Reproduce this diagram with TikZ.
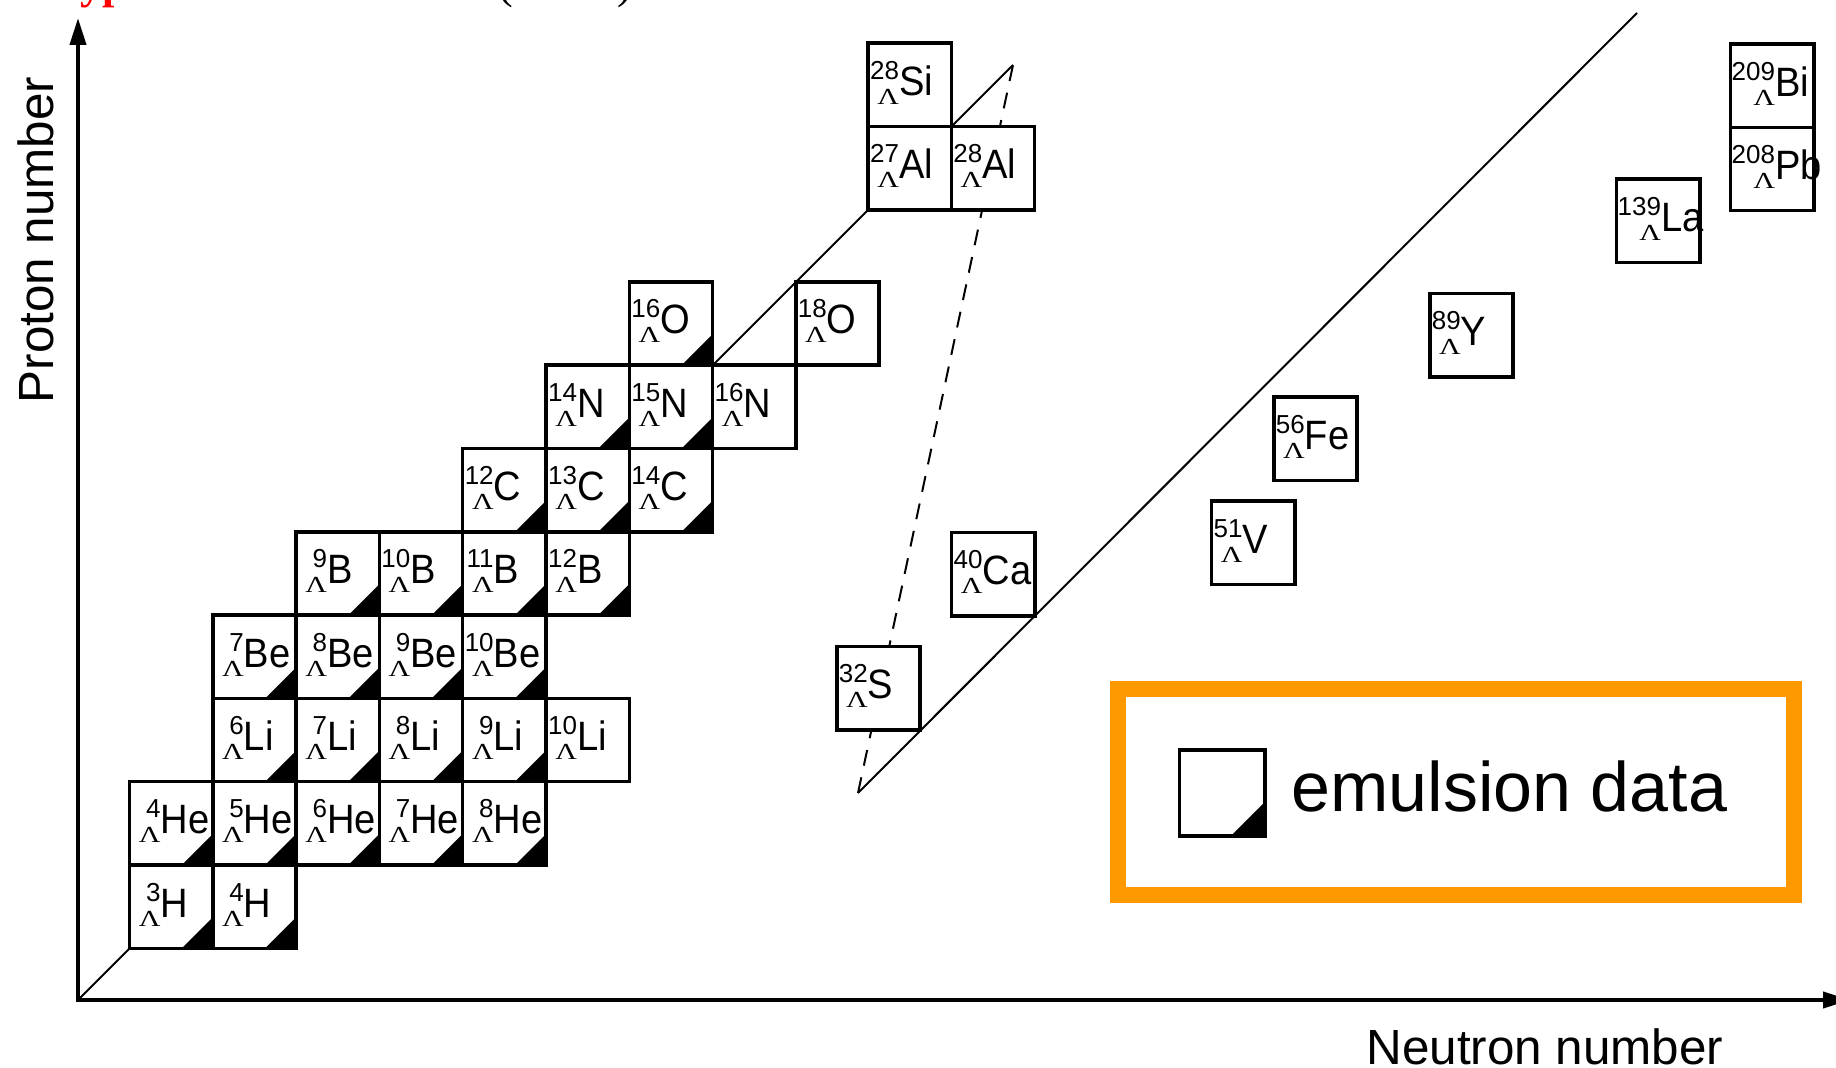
\documentclass[tikz,border=0pt]{standalone}
\usepackage{fontspec}
\setmainfont{Liberation Sans}
\newfontfamily\elemf[FakeStretch=0.93]{Liberation Sans}
\newfontfamily\lamf[FakeStretch=1.3]{Liberation Serif}
\newfontfamily\serf{Liberation Serif}
\usetikzlibrary{arrows.meta}
\definecolor{legendorange}{RGB}{255,153,0}

% hypernucleus symbol: mass number and Lambda right-aligned in front of the element
\newsavebox\presupbox
\newlength\prew
\newcommand\hyn[2]{%
  \sbox\presupbox{\fontsize{13pt}{13pt}\selectfont #1}%
  \setlength\prew{\wd\presupbox}%
  \ifdim\prew<15pt \setlength\prew{15pt}\fi
  \hspace*{0.5pt}%
  \makebox[\prew][r]{\raisebox{8pt}{\usebox\presupbox}}%
  \hspace*{-\prew}%
  \makebox[\prew][r]{\raisebox{-4.5pt}{\lamf\fontsize{11.5pt}{11.5pt}\selectfont Λ}}%
  {\elemf\fontsize{20.5pt}{20.5pt}\selectfont #2}}

\tikzset{
  cell/.style={draw, fill=white, line width=1.75pt, inner sep=0pt,
    minimum size=41.65pt, text width=41.65pt, text height=26pt,
    text depth=15.65pt, align=left},
  emul/.style={path picture={\fill[black] (path picture bounding box.south east)
    -- ++(-#1,0pt) -- ++(#1,#1) -- cycle;}},
  emul/.default=15.5pt,
  axisline/.style={line width=2pt,
    arrows={Triangle[length=13.5pt,width=8pt]-Triangle[length=13.5pt,width=8pt]}},
  guide/.style={line width=1pt},
  axistext/.style={inner sep=0pt, font=\fontsize{24.7pt}{24.7pt}\selectfont},
}

\begin{document}
\begin{tikzpicture}[x=0.5pt, y=-0.5pt]
\useasboundingbox (0,0) rectangle (1836,1068);

% title line (mostly above the frame)
\node[anchor=base west, inner sep=0pt, text=red,
  font=\serf\bfseries\fontsize{22pt}{22pt}\selectfont] (title) at (46,-1) {Hyp};
\node[anchor=base west, inner sep=0pt,
  font=\serf\fontsize{22pt}{22pt}\selectfont] (titlenote) at (498,-1) {(\hspace{52pt})};

% reference points
\coordinate (O) at (78,1000);
\coordinate (ytip) at (78,18);
\coordinate (xtip) at (1850,1000);
\coordinate (diagA) at (1013,65);
\coordinate (diagB) at (858,793);
\coordinate (diagC) at (1637,13);

% guide lines (behind the boxes)
\draw[guide] (O) -- (diagA);
\draw[guide] (diagB) -- (diagC);
\draw[guide, dash pattern=on 8pt off 6pt] (diagB) -- (diagA);

% light hypernuclei on a regular grid (column = neutrons, row = protons)
\begin{scope}[shift={(171.15,906.65)}, x=41.65pt, y=41.65pt]
  \node[cell, emul] (H3)  at (0,0) {\hyn{3}{H}};
  \node[cell, emul] (H4)  at (1,0) {\hyn{4}{H}};
  \node[cell, emul] (He4) at (0,1) {\hyn{4}{He}};
  \node[cell, emul] (He5) at (1,1) {\hyn{5}{He}};
  \node[cell, emul] (He6) at (2,1) {\hyn{6}{He}};
  \node[cell, emul] (He7) at (3,1) {\hyn{7}{He}};
  \node[cell, emul] (He8) at (4,1) {\hyn{8}{He}};
  \node[cell, emul] (Li6) at (1,2) {\hyn{6}{Li}};
  \node[cell, emul] (Li7) at (2,2) {\hyn{7}{Li}};
  \node[cell, emul] (Li8) at (3,2) {\hyn{8}{Li}};
  \node[cell, emul] (Li9) at (4,2) {\hyn{9}{Li}};
  \node[cell]       (Li10) at (5,2) {\hyn{10}{Li}};
  \node[cell, emul] (Be7) at (1,3) {\hyn{7}{Be}};
  \node[cell, emul] (Be8) at (2,3) {\hyn{8}{Be}};
  \node[cell, emul] (Be9) at (3,3) {\hyn{9}{Be}};
  \node[cell, emul] (Be10) at (4,3) {\hyn{10}{Be}};
  \node[cell, emul] (B9)  at (2,4) {\hyn{9}{B}};
  \node[cell, emul] (B10) at (3,4) {\hyn{10}{B}};
  \node[cell, emul] (B11) at (4,4) {\hyn{11}{B}};
  \node[cell, emul] (B12) at (5,4) {\hyn{12}{B}};
  \node[cell, emul] (C12) at (4,5) {\hyn{12}{C}};
  \node[cell, emul] (C13) at (5,5) {\hyn{13}{C}};
  \node[cell, emul] (C14) at (6,5) {\hyn{14}{C}};
  \node[cell, emul] (N14) at (5,6) {\hyn{14}{N}};
  \node[cell, emul] (N15) at (6,6) {\hyn{15}{N}};
  \node[cell]       (N16) at (7,6) {\hyn{16}{N}};
  \node[cell, emul] (O16) at (6,7) {\hyn{16}{O}};
  \node[cell]       (O18) at (8,7) {\hyn{18}{O}};
\end{scope}

% heavier hypernuclei
\node[cell] (Si28) at (909.7,84.9)   {\hyn{28}{Si}};
\node[cell] (Al27) at (909.7,168.4)  {\hyn{27}{Al}};
\node[cell] (Al28) at (993.0,168.4)  {\hyn{28}{Al}};
\node[cell] (S32)  at (878.5,688.3)  {\hyn{32}{S}};
\node[cell] (Ca40) at (993.3,574.3)  {\hyn{40}{Ca}};
\node[cell] (V51)  at (1253.2,542.8) {\hyn{51}{V}};
\node[cell] (Fe56) at (1315.5,438.8) {\hyn{56}{Fe}};
\node[cell] (Y89)  at (1471.5,335.3) {\hyn{89}{Y}};
\node[cell] (La139) at (1658.3,220.7) {\hyn{139}{La}};
\node[cell] (Pb208) at (1772.3,169.0) {\hyn{208}{Pb}};
\node[cell] (Bi209) at (1772.3,85.7)  {\hyn{209}{Bi}};

% axes
\draw[axisline] (ytip) -- (O) -- (xtip);
\node[axistext, anchor=base west] (xlab) at (1366,1064) {Neutron number};
\node[axistext, rotate=90, anchor=base] (ylab) at (53,240) {Proton number};

% legend
\node[draw=legendorange, line width=8pt, inner sep=0pt,
  minimum width=338pt, minimum height=103pt] (legend) at (1456,792) {};
\node[draw, fill=white, line width=1.75pt, inner sep=0pt, minimum size=42.75pt,
  emul=17pt] (legicon) at (1222.3,793) {};
\node[anchor=base west, inner sep=0pt, font=\fontsize{35pt}{35pt}\selectfont]
  (legtext) at (1291,812) {emulsion data};
\end{tikzpicture}
\end{document}
